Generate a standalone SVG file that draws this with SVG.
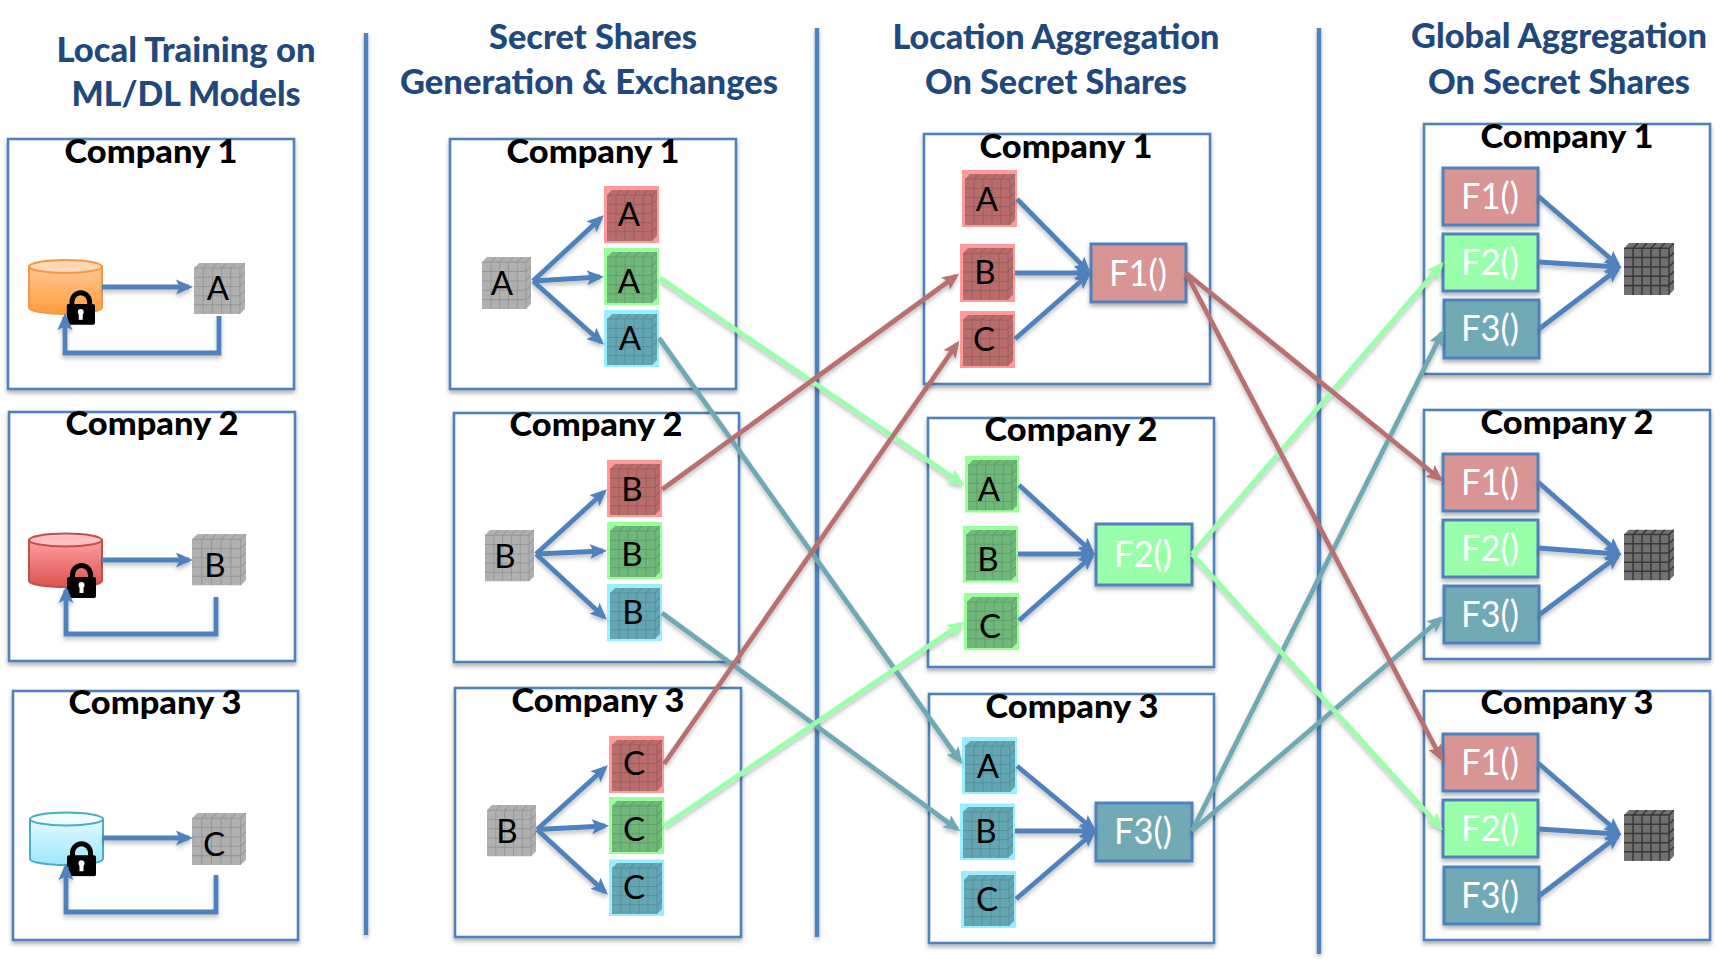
<svg xmlns="http://www.w3.org/2000/svg" width="1730" height="966" viewBox="0 0 1730 966">
<style>
text{font-family:Lato,"Liberation Sans",sans-serif}
.h{font-size:35px;font-weight:900;fill:#1f497d;text-anchor:middle}
.co{font-size:32px;font-weight:900;fill:#000;text-anchor:middle}
.l{font-size:33px;fill:#000;text-anchor:middle}
.f{font-size:36px;fill:#fff;text-anchor:middle}
.box{fill:#fff;stroke:#4f81bd;stroke-width:2.6;filter:url(#sh)}
.div{stroke:#4f81bd;stroke-width:4.500}
.fn{stroke:#4f81bd;stroke-width:3;filter:url(#sh)}
.f1{fill:#d99594}.f2{fill:#99ffaa}.f3{fill:#71a9b4}
.br{fill:#ff9a9a}.bg{fill:#99ff99}.bc{fill:#99eeff}
.cube{stroke:#000;stroke-opacity:.14;stroke-width:1;fill:none}
.gy{color:#b0b0b0}.r{color:#b86c6c}.g{color:#6fb87a}.c{color:#63a7b4}
.dk{color:#707070;stroke-opacity:.5;stroke-width:1.500}
.ln{fill:none;stroke-width:4.800}
.blue{stroke:#4f81bd;marker-end:url(#mb)}
.red{stroke:#b87070;marker-end:url(#mr)}
.grn{stroke:#99ffaa;marker-end:url(#mg)}
.tea{stroke:#6fa8b4;marker-end:url(#mt)}
</style>
<defs>
<filter id="sh" x="-10%" y="-10%" width="120%" height="125%" filterUnits="objectBoundingBox"><feDropShadow dx="0" dy="3" stdDeviation="2" flood-color="#000" flood-opacity=".3"/></filter>
<filter id="lsh" x="0" y="0" width="1730" height="966" filterUnits="userSpaceOnUse"><feDropShadow dx="0" dy="3" stdDeviation="2" flood-color="#000" flood-opacity=".25"/></filter>
<marker id="mb" markerUnits="userSpaceOnUse" markerWidth="20" markerHeight="18" refX="13" refY="9" orient="auto"><path d="M0 1.500L17 9L0 16.500L3.500 9Z" fill="#4f81bd"/></marker>
<marker id="mr" markerUnits="userSpaceOnUse" markerWidth="20" markerHeight="18" refX="13" refY="9" orient="auto"><path d="M0 1.500L17 9L0 16.500L3.500 9Z" fill="#b87070"/></marker>
<marker id="mg" markerUnits="userSpaceOnUse" markerWidth="20" markerHeight="18" refX="13" refY="9" orient="auto"><path d="M0 1.500L17 9L0 16.500L3.500 9Z" fill="#99ffaa"/></marker>
<marker id="mt" markerUnits="userSpaceOnUse" markerWidth="20" markerHeight="18" refX="13" refY="9" orient="auto"><path d="M0 1.500L17 9L0 16.500L3.500 9Z" fill="#6fa8b4"/></marker>
<symbol id="cube" viewBox="0 0 50 50" preserveAspectRatio="none">
<path fill="currentColor" stroke="none" d="M0 5L5 0H50V45L45 50H0Z"/>
<path d="M0 5H45V50M45 5L50 0M0 14H45M0 23H45M0 32H45M0 41H45M9 5V50M18 5V50M27 5V50M36 5V50M45 14L50 9M45 23L50 18M45 32L50 27M45 41L50 36M9 5L14 0M18 5L23 0M27 5L32 0M36 5L41 0"/>
</symbol>
<symbol id="lock" viewBox="0 0 29 35">
<path d="M5.500 17V12a9 9.500 0 0 1 18 0V17" fill="none" stroke="#000" stroke-width="5"/>
<rect x="0" y="14" width="29" height="21" rx="2" fill="#000"/>
<circle cx="14.500" cy="22" r="3" fill="#fff"/><rect x="12.500" y="23" width="4" height="7" fill="#fff"/>
</symbol>
<linearGradient id="go" x1="0" y1="0" x2="0" y2="1"><stop offset="0" stop-color="#ffc896"/><stop offset="1" stop-color="#ff9c3c"/></linearGradient>
<linearGradient id="gr" x1="0" y1="0" x2="0" y2="1"><stop offset="0" stop-color="#ffa0a0"/><stop offset="1" stop-color="#dc5250"/></linearGradient>
<linearGradient id="gc" x1="0" y1="0" x2="0" y2="1"><stop offset="0" stop-color="#e4faff"/><stop offset="1" stop-color="#9ae8fb"/></linearGradient>
</defs>
<rect width="1730" height="966" fill="#fff"/>

<g id="dividers" filter="url(#lsh)">
<line class="div" x1="366" y1="33" x2="366" y2="935"/>
<line class="div" x1="817" y1="28" x2="817" y2="937"/>
<line class="div" x1="1319" y1="28" x2="1319" y2="954"/>
</g>

<g id="headings">
<text class="h" x="186" y="62" textLength="259" lengthAdjust="spacingAndGlyphs">Local Training on</text>
<text class="h" x="186" y="106" textLength="229" lengthAdjust="spacingAndGlyphs">ML/DL Models</text>
<text class="h" x="593" y="49" textLength="208" lengthAdjust="spacingAndGlyphs">Secret Shares</text>
<text class="h" x="589" y="94" textLength="378" lengthAdjust="spacingAndGlyphs">Generation &amp; Exchanges</text>
<text class="h" x="1056" y="49" textLength="327" lengthAdjust="spacingAndGlyphs">Location Aggregation</text>
<text class="h" x="1056" y="94" textLength="262" lengthAdjust="spacingAndGlyphs">On Secret Shares</text>
<text class="h" x="1559" y="48" textLength="296" lengthAdjust="spacingAndGlyphs">Global Aggregation</text>
<text class="h" x="1559" y="94" textLength="262" lengthAdjust="spacingAndGlyphs">On Secret Shares</text>
</g>

<!-- Column 1 -->
<g id="train-1">
<rect class="box" x="8" y="139" width="286" height="250"/>
<text class="co" x="151" y="163" textLength="173" lengthAdjust="spacingAndGlyphs">Company 1</text>
<g id="db-1"><path d="M29 266.500V307.500A36.500 6.500 0 0 0 102 307.500V266.500Z" fill="url(#go)" stroke="#f79646" stroke-width="2"/><ellipse cx="65.500" cy="266.500" rx="36.500" ry="6.500" fill="#ffd8b4" stroke="#f79646" stroke-width="2"/><use href="#lock" x="66.500" y="290" width="28.500" height="35"/></g>
<g id="model-1"><use href="#cube" class="cube gy" x="194" y="263" width="51" height="51"/><text class="l" x="218" y="300">A</text></g>
</g>
<g id="train-2">
<rect class="box" x="9" y="412" width="286" height="249"/>
<text class="co" x="152" y="435" textLength="173" lengthAdjust="spacingAndGlyphs">Company 2</text>
<g id="db-2"><path d="M29 540V581A36.500 6 0 0 0 102 581V540Z" fill="url(#gr)" stroke="#c0504d" stroke-width="2"/><ellipse cx="65.500" cy="540" rx="36.500" ry="6.500" fill="#ffc0c0" stroke="#c0504d" stroke-width="2"/><use href="#lock" x="67" y="563" width="29" height="35"/></g>
<g id="model-2"><use href="#cube" class="cube gy" x="192" y="534" width="54" height="51.500"/><text class="l" x="215" y="577">B</text></g>
</g>
<g id="train-3">
<rect class="box" x="13" y="691" width="285" height="249"/>
<text class="co" x="155" y="714" textLength="173" lengthAdjust="spacingAndGlyphs">Company 3</text>
<g id="db-3"><path d="M30 819V859A36.500 6 0 0 0 103 859V819Z" fill="url(#gc)" stroke="#4bacc6" stroke-width="2"/><ellipse cx="66.500" cy="819" rx="36.500" ry="6.500" fill="#f0fcff" stroke="#4bacc6" stroke-width="2"/><use href="#lock" x="67" y="841" width="29" height="35.500"/></g>
<g id="model-3"><use href="#cube" class="cube gy" x="192" y="813" width="54" height="52"/><text class="l" x="214" y="856">C</text></g>
</g>

<!-- Column 2 -->
<g id="gen-1">
<rect class="box" x="450" y="139" width="286" height="250"/>
<text class="co" x="593" y="163" textLength="173" lengthAdjust="spacingAndGlyphs">Company 1</text>
<g id="gen-1-src"><use href="#cube" class="cube gy" x="482" y="257" width="49" height="52"/><text class="l" x="502" y="295">A</text></g>
<g id="gen-1-r"><rect class="br" x="604" y="186" width="55" height="57"/><use href="#cube" class="cube r" x="607" y="190" width="50" height="51"/><text class="l" x="629" y="226">A</text></g>
<g id="gen-1-g"><rect class="bg" x="604" y="248" width="55" height="57"/><use href="#cube" class="cube g" x="607" y="252" width="50" height="51"/><text class="l" x="629" y="293">A</text></g>
<g id="gen-1-c"><rect class="bc" x="604" y="310" width="55" height="57"/><use href="#cube" class="cube c" x="607" y="314" width="50" height="51"/><text class="l" x="630" y="350">A</text></g>
</g>
<g id="gen-2">
<rect class="box" x="454" y="413" width="285" height="249"/>
<text class="co" x="596" y="436" textLength="173" lengthAdjust="spacingAndGlyphs">Company 2</text>
<g id="gen-2-src"><use href="#cube" class="cube gy" x="485" y="530" width="49" height="51.500"/><text class="l" x="505" y="568">B</text></g>
<g id="gen-2-r"><rect class="br" x="607" y="460" width="55" height="57"/><use href="#cube" class="cube r" x="610" y="464" width="50" height="51"/><text class="l" x="632" y="501">B</text></g>
<g id="gen-2-g"><rect class="bg" x="607" y="522" width="55" height="57"/><use href="#cube" class="cube g" x="610" y="526" width="50" height="51"/><text class="l" x="632" y="566">B</text></g>
<g id="gen-2-c"><rect class="bc" x="607" y="584" width="55" height="57"/><use href="#cube" class="cube c" x="610" y="588" width="50" height="51"/><text class="l" x="633" y="624">B</text></g>
</g>
<g id="gen-3">
<rect class="box" x="455" y="688" width="286" height="249"/>
<text class="co" x="598" y="711.500" textLength="173" lengthAdjust="spacingAndGlyphs">Company 3</text>
<g id="gen-3-src"><use href="#cube" class="cube gy" x="487" y="805" width="49" height="51.500"/><text class="l" x="507" y="843">B</text></g>
<g id="gen-3-r"><rect class="br" x="609" y="736" width="55" height="57"/><use href="#cube" class="cube r" x="612" y="740" width="50" height="51"/><text class="l" x="634" y="775">C</text></g>
<g id="gen-3-g"><rect class="bg" x="609" y="797" width="55" height="57"/><use href="#cube" class="cube g" x="612" y="801" width="50" height="51"/><text class="l" x="634" y="841">C</text></g>
<g id="gen-3-c"><rect class="bc" x="609" y="859.500" width="55" height="56.500"/><use href="#cube" class="cube c" x="612" y="863" width="50" height="51"/><text class="l" x="634" y="899">C</text></g>
</g>

<!-- Column 3 -->
<g id="loc-1">
<rect class="box" x="924" y="134" width="286" height="250"/>
<text class="co" x="1066" y="158" textLength="173" lengthAdjust="spacingAndGlyphs">Company 1</text>
<g id="loc-1-a"><rect class="br" x="962" y="170" width="55" height="57"/><use href="#cube" class="cube r" x="965" y="174" width="50" height="51"/><text class="l" x="987" y="211">A</text></g>
<g id="loc-1-b"><rect class="br" x="960" y="244" width="55" height="58"/><use href="#cube" class="cube r" x="963" y="248" width="50" height="52"/><text class="l" x="985" y="284">B</text></g>
<g id="loc-1-c"><rect class="br" x="960" y="311" width="55" height="57"/><use href="#cube" class="cube r" x="963" y="315" width="50" height="51"/><text class="l" x="984" y="351">C</text></g>
<g id="loc-1-f"><rect class="fn f1" x="1091" y="244" width="95" height="58"/><text class="f" x="1138" y="286" textLength="58" lengthAdjust="spacingAndGlyphs">F1()</text></g>
</g>
<g id="loc-2">
<rect class="box" x="928" y="418" width="286" height="249"/>
<text class="co" x="1071" y="441" textLength="173" lengthAdjust="spacingAndGlyphs">Company 2</text>
<g id="loc-2-a"><rect class="bg" x="965" y="456" width="54" height="56.500"/><use href="#cube" class="cube g" x="968" y="460" width="49" height="50.500"/><text class="l" x="989" y="501">A</text></g>
<g id="loc-2-b"><rect class="bg" x="963" y="526" width="55" height="56.500"/><use href="#cube" class="cube g" x="966" y="530" width="50" height="50.500"/><text class="l" x="988" y="571">B</text></g>
<g id="loc-2-c"><rect class="bg" x="964" y="593" width="55" height="57"/><use href="#cube" class="cube g" x="967" y="597" width="50" height="51"/><text class="l" x="990" y="638">C</text></g>
<g id="loc-2-f"><rect class="fn f2" x="1096" y="524" width="96" height="61"/><text class="f" x="1143" y="567" textLength="58" lengthAdjust="spacingAndGlyphs">F2()</text></g>
</g>
<g id="loc-3">
<rect class="box" x="929" y="694" width="285" height="249"/>
<text class="co" x="1072" y="718" textLength="173" lengthAdjust="spacingAndGlyphs">Company 3</text>
<g id="loc-3-a"><rect class="bc" x="962" y="737" width="55" height="57"/><use href="#cube" class="cube c" x="965" y="741" width="50" height="51"/><text class="l" x="988" y="778">A</text></g>
<g id="loc-3-b"><rect class="bc" x="960" y="803.500" width="55" height="56.500"/><use href="#cube" class="cube c" x="963" y="807" width="50" height="51"/><text class="l" x="986" y="843">B</text></g>
<g id="loc-3-c"><rect class="bc" x="961" y="871" width="55" height="57"/><use href="#cube" class="cube c" x="964" y="875" width="50" height="51"/><text class="l" x="987" y="911">C</text></g>
<g id="loc-3-f"><rect class="fn f3" x="1096" y="803" width="96" height="58"/><text class="f" x="1143" y="844" textLength="58" lengthAdjust="spacingAndGlyphs">F3()</text></g>
</g>

<!-- Column 4 -->
<g id="glob-1">
<rect class="box" x="1424" y="124" width="286" height="250"/>
<text class="co" x="1567" y="148" textLength="173" lengthAdjust="spacingAndGlyphs">Company 1</text>
<g id="glob-1-f1"><rect class="fn f1" x="1443" y="168" width="95" height="57"/><text class="f" x="1490" y="209" textLength="58" lengthAdjust="spacingAndGlyphs">F1()</text></g>
<g id="glob-1-f2"><rect class="fn f2" x="1443" y="234" width="95" height="57"/><text class="f" x="1490" y="275" textLength="58" lengthAdjust="spacingAndGlyphs">F2()</text></g>
<g id="glob-1-f3"><rect class="fn f3" x="1444" y="300" width="95" height="58"/><text class="f" x="1490" y="341" textLength="58" lengthAdjust="spacingAndGlyphs">F3()</text></g>
<g id="glob-1-m"><use href="#cube" class="cube dk" x="1624" y="243" width="50" height="52"/></g>
</g>
<g id="glob-2">
<rect class="box" x="1424" y="410" width="286" height="249"/>
<text class="co" x="1567" y="434" textLength="173" lengthAdjust="spacingAndGlyphs">Company 2</text>
<g id="glob-2-f1"><rect class="fn f1" x="1443" y="454" width="95" height="57"/><text class="f" x="1490" y="495" textLength="58" lengthAdjust="spacingAndGlyphs">F1()</text></g>
<g id="glob-2-f2"><rect class="fn f2" x="1443" y="520" width="95" height="57"/><text class="f" x="1490" y="561" textLength="58" lengthAdjust="spacingAndGlyphs">F2()</text></g>
<g id="glob-2-f3"><rect class="fn f3" x="1444" y="586" width="95" height="57"/><text class="f" x="1490" y="627" textLength="58" lengthAdjust="spacingAndGlyphs">F3()</text></g>
<g id="glob-2-m"><use href="#cube" class="cube dk" x="1624" y="529.500" width="50" height="51"/></g>
</g>
<g id="glob-3">
<rect class="box" x="1424" y="691" width="286" height="249"/>
<text class="co" x="1567" y="714" textLength="173" lengthAdjust="spacingAndGlyphs">Company 3</text>
<g id="glob-3-f1"><rect class="fn f1" x="1443" y="734" width="95" height="57"/><text class="f" x="1490" y="775" textLength="58" lengthAdjust="spacingAndGlyphs">F1()</text></g>
<g id="glob-3-f2"><rect class="fn f2" x="1443" y="800" width="95" height="57"/><text class="f" x="1490" y="841" textLength="58" lengthAdjust="spacingAndGlyphs">F2()</text></g>
<g id="glob-3-f3"><rect class="fn f3" x="1444" y="867" width="95" height="57"/><text class="f" x="1490" y="908" textLength="58" lengthAdjust="spacingAndGlyphs">F3()</text></g>
<g id="glob-3-m"><use href="#cube" class="cube dk" x="1624" y="810" width="50" height="51"/></g>
</g>

<g id="connectors" class="ln" filter="url(#lsh)">
<!-- training loops -->
<path class="ln blue" d="M102 287H189"/>
<path class="ln blue" d="M219 316V353H65V317"/>
<path class="ln blue" d="M102 560H189"/>
<path class="ln blue" d="M216 597V634H66V590"/>
<path class="ln blue" d="M102 838H189"/>
<path class="ln blue" d="M216 875V912H66V867"/>
<!-- fan out -->
<path class="ln blue" d="M533 281L601 218"/><path class="ln blue" d="M533 281L600 277"/><path class="ln blue" d="M533 281L601 342"/>
<path class="ln blue" d="M536 554L604 492"/><path class="ln blue" d="M536 554L603 551"/><path class="ln blue" d="M536 554L604 617"/>
<path class="ln blue" d="M537 829.500L605 768"/><path class="ln blue" d="M537 829.500L605 826"/><path class="ln blue" d="M537 829.500L605 892"/>
<!-- location aggregation -->
<path class="ln blue" d="M1017 199L1088 271"/><path class="ln blue" d="M1015 273H1088"/><path class="ln blue" d="M1015 339L1088 275"/>
<path class="ln blue" d="M1019 485L1092 552"/><path class="ln blue" d="M1018 554H1092"/><path class="ln blue" d="M1019 620.500L1092 556"/>
<path class="ln blue" d="M1017 766L1093 829"/><path class="ln blue" d="M1015 831H1093"/><path class="ln blue" d="M1016 899L1093 833"/>
<!-- global aggregation -->
<path class="ln blue" d="M1538 196L1618 265"/><path class="ln blue" d="M1538 262L1618 267"/><path class="ln blue" d="M1539 329L1618 269"/>
<path class="ln blue" d="M1538 482L1618 552"/><path class="ln blue" d="M1538 548L1618 554"/><path class="ln blue" d="M1539 615L1618 556"/>
<path class="ln blue" d="M1538 763L1618 832"/><path class="ln blue" d="M1538 829L1618 834"/><path class="ln blue" d="M1539 896L1618 836"/>
<!-- function exchange -->
<path class="ln tea" d="M1192 831L1442 333"/>
<path class="ln tea" d="M1192 831L1441 618.500"/>
<path class="ln grn" d="M1192 554L1441 265"/>
<path class="ln grn" d="M1192 554L1440 827"/>
<path class="ln red" d="M1186 273L1440 479"/>
<path class="ln red" d="M1186 273L1441 758"/>
<!-- share exchange -->
<path class="ln tea" d="M659 338L960 761"/>
<path class="ln tea" d="M662 613L957 829"/>
<path class="ln grn" d="M660 278L961 483"/>
<path class="ln grn" d="M664 826L961 624"/>
<path class="ln red" d="M662 489.500L956 276"/>
<path class="ln red" d="M664 764L957 344"/>
</g>
</svg>
